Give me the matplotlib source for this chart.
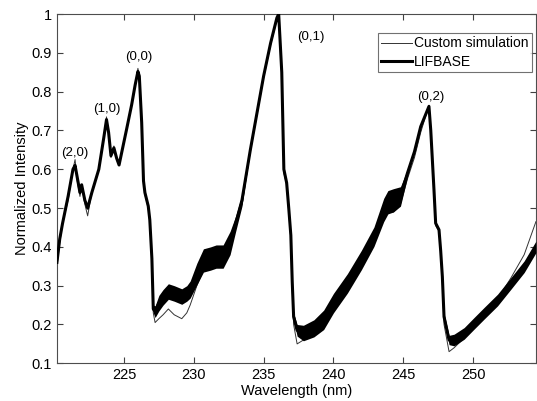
import numpy as np
import matplotlib
matplotlib.use("Agg")
import matplotlib.pyplot as plt

plt.rcParams['font.family'] = ['Liberation Sans', 'DejaVu Sans']

# wavelength grid (nm)
wl = np.array([
    220.2, 220.4, 220.6, 221.0, 221.35, 221.5, 221.65, 221.85, 221.97, 222.2,
    222.4, 222.7, 223.2, 223.55, 223.75, 223.9, 224.07, 224.28, 224.48, 224.65,
    225.2, 225.55, 225.8, 226.0, 226.1, 226.27, 226.4, 226.5, 226.74, 226.85,
    227.0, 227.1, 227.23, 227.5, 227.8, 228.18, 228.6, 229.14, 229.5, 229.74,
    230.22, 230.69, 231.2, 231.6, 232.1, 232.6, 233.0, 233.45, 234.05, 235.0,
    235.5, 235.95, 236.08, 236.3, 236.45, 236.65, 236.8, 236.95, 237.05, 237.15,
    237.4, 237.85, 238.6, 239.3, 240.0, 241.0, 242.0, 242.9, 243.6, 243.9,
    244.3, 244.8, 245.3, 245.8, 246.25, 246.84, 246.97, 247.2, 247.32, 247.56,
    247.68, 247.8, 247.92, 248.28, 248.64, 249.36, 250.07, 250.79, 251.75, 252.71,
    253.66, 254.5])

# LIFBASE (thick line), centre of the band
lifbase = np.array([
    0.36, 0.42, 0.46, 0.53, 0.60, 0.61, 0.58, 0.54, 0.56, 0.52,
    0.50, 0.54, 0.60, 0.68, 0.728, 0.695, 0.635, 0.655, 0.628, 0.611,
    0.705, 0.766, 0.817, 0.852, 0.84, 0.72, 0.57, 0.54, 0.505, 0.47,
    0.37, 0.24, 0.233, 0.255, 0.27, 0.285, 0.28, 0.272, 0.28, 0.29,
    0.33, 0.365, 0.37, 0.375, 0.375, 0.41, 0.46, 0.52, 0.65, 0.84,
    0.925, 0.99, 1.0, 0.85, 0.60, 0.565, 0.50, 0.43, 0.31, 0.22,
    0.185, 0.178, 0.19, 0.212, 0.255, 0.306, 0.366, 0.426, 0.495, 0.515,
    0.52, 0.53, 0.59, 0.645, 0.71, 0.762, 0.70, 0.547, 0.461, 0.444,
    0.39, 0.323, 0.22, 0.16, 0.16, 0.177, 0.203, 0.229, 0.263, 0.306,
    0.349, 0.40])

# half height of the dense rotational structure around the LIFBASE line
lif_band = np.array([
    0, 0, 0, 0, 0, 0, 0, 0.005, 0.005, 0.005,
    0.005, 0, 0, 0, 0, 0, 0, 0, 0, 0,
    0, 0, 0, 0, 0, 0, 0, 0, 0, 0,
    0, 0.01, 0.015, 0.02, 0.02, 0.02, 0.02, 0.02, 0.02, 0.022,
    0.028, 0.03, 0.03, 0.03, 0.03, 0.03, 0.02, 0.015, 0, 0,
    0, 0, 0, 0, 0, 0, 0, 0, 0, 0.01,
    0.015, 0.02, 0.022, 0.025, 0.025, 0.025, 0.025, 0.025, 0.03, 0.03,
    0.03, 0.025, 0.01, 0, 0, 0, 0, 0, 0, 0,
    0, 0, 0.01, 0.012, 0.015, 0.015, 0.015, 0.015, 0.015, 0.015,
    0.015, 0.015])

# custom simulation (thin line)
custom = np.array([
    0.35, 0.41, 0.46, 0.52, 0.60, 0.625, 0.57, 0.53, 0.56, 0.51,
    0.48, 0.54, 0.60, 0.68, 0.735, 0.69, 0.63, 0.66, 0.625, 0.61,
    0.705, 0.766, 0.817, 0.86, 0.84, 0.72, 0.57, 0.535, 0.50, 0.46,
    0.36, 0.23, 0.205, 0.215, 0.225, 0.24, 0.225, 0.215, 0.23, 0.25,
    0.30, 0.34, 0.345, 0.35, 0.35, 0.395, 0.45, 0.51, 0.645, 0.835,
    0.92, 0.985, 1.0, 0.84, 0.59, 0.56, 0.49, 0.42, 0.29, 0.20,
    0.15, 0.16, 0.17, 0.195, 0.24, 0.29, 0.35, 0.41, 0.47, 0.49,
    0.49, 0.51, 0.575, 0.63, 0.695, 0.765, 0.70, 0.54, 0.455, 0.44,
    0.38, 0.31, 0.20, 0.13, 0.14, 0.165, 0.195, 0.225, 0.265, 0.32,
    0.38, 0.465])

bands = ['(2,0)', '(1,0)', '(0,0)', '(0,1)', '(0,2)']
band_x = [221.48, 223.76, 226.03, 238.35, 246.97]
band_y = [0.643, 0.755, 0.889, 0.942, 0.787]

fig = plt.figure(figsize=(5.37, 4.01), dpi=100)
ax = fig.add_axes([0.106, 0.094, 0.892, 0.871])

ax.plot(wl, custom, color='0.2', lw=0.7, label='Custom simulation', zorder=2)
ax.fill_between(wl, lifbase - lif_band, lifbase + lif_band, color='black', lw=0, zorder=3)
ax.plot(wl, lifbase, color='black', lw=2.2, label='LIFBASE', zorder=4)

for name, bx, by in zip(bands, band_x, band_y):
    ax.text(bx, by, name, ha='center', va='center', fontsize=9.5)

ax.set_xlim(220.2, 254.5)
ax.set_ylim(0.1, 1.0)
ax.set_xticks([225, 230, 235, 240, 245, 250])
ax.set_yticks(np.arange(0.1, 1.01, 0.1))
ax.set_yticklabels(['0.1', '0.2', '0.3', '0.4', '0.5', '0.6', '0.7', '0.8', '0.9', '1'])
ax.tick_params(direction='in', top=True, right=True, labelsize=10.5, length=4, colors='0.25', labelcolor='black')
for s in ax.spines.values():
    s.set_color('0.3')
    s.set_linewidth(0.8)

ax.set_xlabel('Wavelength (nm)', fontsize=10.5, labelpad=1)
ax.set_ylabel('Normalized Intensity', fontsize=10.5, labelpad=2)

leg = ax.legend(loc='upper right', fontsize=10, fancybox=False, edgecolor='0.3',
                handlelength=2.2, borderpad=0.25, labelspacing=0.3, handletextpad=0.15,
                borderaxespad=0, bbox_to_anchor=(0.992, 0.946))
leg.get_frame().set_linewidth(0.8)

plt.savefig('out.png', dpi=100)
